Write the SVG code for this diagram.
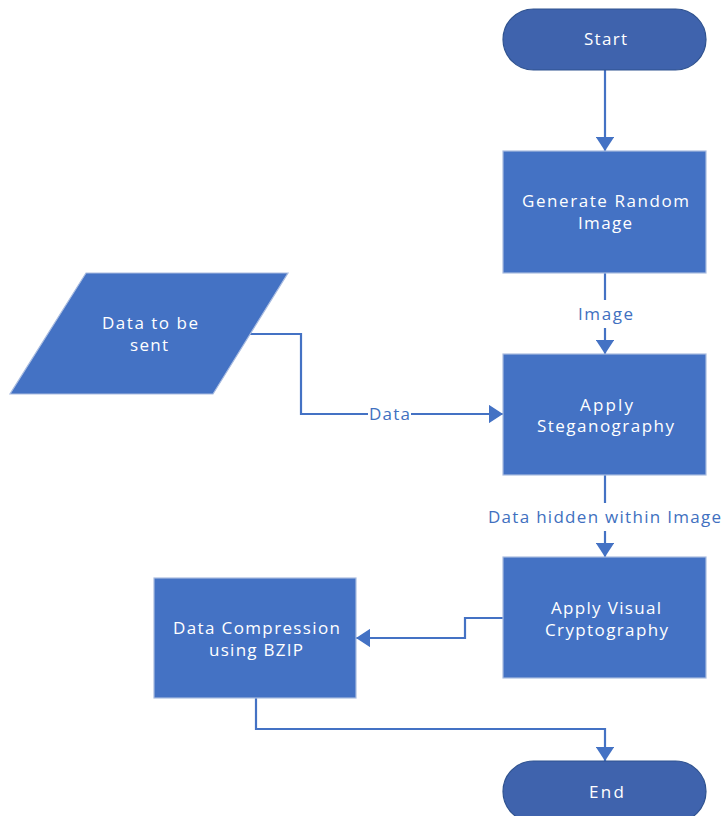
<svg xmlns="http://www.w3.org/2000/svg" width="721" height="816" viewBox="0 0 721 816">
<defs>
<style>
.box{fill:#4472C4;stroke:#A9BCE0;stroke-width:1.2}
.term{fill:#3F63AD;stroke:#2F528F;stroke-width:1.2}
.t{font-family:"Open Sans","Noto Sans",sans-serif;font-size:17px;fill:#FFFFFF;text-anchor:middle}
.lbl{font-family:"Open Sans","Noto Sans",sans-serif;font-size:17px;fill:#4170C0;text-anchor:middle}
.c{fill:none;stroke:#4472C4;stroke-width:2.2}
</style>
<marker id="ah" viewBox="0 0 10 10" refX="10" refY="5" markerWidth="6.5" markerHeight="8.5" markerUnits="strokeWidth" orient="auto" preserveAspectRatio="none">
<path d="M0,0 L10,5 L0,10 z" fill="#4472C4"/>
</marker>
</defs>
<rect width="721" height="816" fill="#FFFFFF"/>
<g id="connectors">
<path class="c" d="M605,70 L605,151" marker-end="url(#ah)"/>
<path class="c" d="M605,273 L605,300"/>
<path class="c" d="M605,328 L605,354" marker-end="url(#ah)"/>
<path class="c" d="M605,475 L605,503"/>
<path class="c" d="M605,531 L605,557" marker-end="url(#ah)"/>
<path class="c" d="M250,334 L301,334 L301,414 L368,414"/>
<path class="c" d="M411,414 L503,414" marker-end="url(#ah)"/>
<path class="c" d="M503,618 L465,618 L465,638 L356,638" marker-end="url(#ah)"/>
<path class="c" d="M256,698 L256,729 L605,729 L605,761" marker-end="url(#ah)"/>
<text class="lbl" x="605.5" y="320" textLength="55" lengthAdjust="spacing">Image</text>
<text class="lbl" x="389.5" y="420" textLength="41" lengthAdjust="spacing">Data</text>
<text class="lbl" x="604.5" y="523" textLength="233" lengthAdjust="spacing">Data hidden within Image</text>
</g>
<g id="start">
<rect class="term" x="503" y="9" width="203" height="61" rx="30.5"/>
<text class="t" x="605.5" y="45" textLength="43" lengthAdjust="spacing">Start</text>
</g>
<g id="generate">
<rect class="box" x="503" y="151" width="203" height="122"/>
<text class="t" x="605.5" y="207" textLength="167" lengthAdjust="spacing">Generate Random</text>
<text class="t" x="605" y="229" textLength="54" lengthAdjust="spacing">Image</text>
</g>
<g id="data-input">
<path class="box" d="M86,273 L288,273 L213,394 L10,394 z"/>
<text class="t" x="150" y="329" textLength="96" lengthAdjust="spacing">Data to be</text>
<text class="t" x="149" y="351" textLength="38" lengthAdjust="spacing">sent</text>
</g>
<g id="stego">
<rect class="box" x="503" y="354" width="203" height="121"/>
<text class="t" x="606.5" y="411" textLength="53" lengthAdjust="spacing">Apply</text>
<text class="t" x="605.5" y="432" textLength="137" lengthAdjust="spacing">Steganography</text>
</g>
<g id="visual">
<rect class="box" x="503" y="557" width="203" height="121"/>
<text class="t" x="606" y="614" textLength="110" lengthAdjust="spacing">Apply Visual</text>
<text class="t" x="606.5" y="636" textLength="123" lengthAdjust="spacing">Cryptography</text>
</g>
<g id="compress">
<rect class="box" x="154" y="578" width="202" height="120"/>
<text class="t" x="256.5" y="634" textLength="167" lengthAdjust="spacing">Data Compression</text>
<text class="t" x="256" y="656" textLength="94" lengthAdjust="spacing">using BZIP</text>
</g>
<g id="end">
<rect class="term" x="503" y="761" width="203" height="61" rx="30.5"/>
<text class="t" x="606.5" y="798" textLength="35" lengthAdjust="spacing">End</text>
</g>
</svg>
